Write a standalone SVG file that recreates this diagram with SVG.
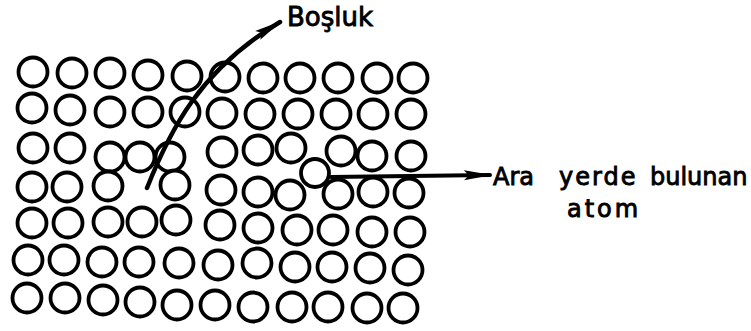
<svg xmlns="http://www.w3.org/2000/svg" width="751" height="331" viewBox="0 0 751 331">
  <style>
    .atom { fill: #fff; stroke: #000; stroke-width: 3.8; }
    .lead { fill: none; stroke: #000; stroke-linecap: round; }
    .lbl { font-family: "DejaVu Sans", "Liberation Sans", sans-serif; fill: #000; stroke: #000; stroke-width: 0.9; }
  </style>
  <defs>
    <marker id="head" markerUnits="userSpaceOnUse" markerWidth="28" markerHeight="14" viewBox="0 0 28 14" refX="26" refY="7" orient="auto">
      <path d="M0,2 L28,7 L0,12 L5,7 Z" fill="#000"/>
    </marker>
  </defs>

  <!-- regular lattice atoms, one row per line -->
  <g id="lattice">
    <!-- row 1 -->
    <circle class="atom" cx="33" cy="72" r="14.5"/>
    <circle class="atom" cx="72" cy="73" r="14.5"/>
    <circle class="atom" cx="110" cy="73" r="14.5"/>
    <circle class="atom" cx="148" cy="75" r="14.5"/>
    <circle class="atom" cx="187" cy="76" r="14.5"/>
    <circle class="atom" cx="225" cy="77" r="14.5"/>
    <circle class="atom" cx="263" cy="78" r="14.5"/>
    <circle class="atom" cx="300" cy="78" r="14.5"/>
    <circle class="atom" cx="338" cy="78" r="14.5"/>
    <circle class="atom" cx="377" cy="78" r="14.5"/>
    <circle class="atom" cx="413" cy="78" r="14.5"/>
    <!-- row 2 -->
    <circle class="atom" cx="32" cy="108" r="14.5"/>
    <circle class="atom" cx="70" cy="110" r="14.5"/>
    <circle class="atom" cx="110" cy="112" r="14.5"/>
    <circle class="atom" cx="148" cy="112" r="14.5"/>
    <circle class="atom" cx="185" cy="112" r="14.5"/>
    <circle class="atom" cx="222" cy="113" r="14.5"/>
    <circle class="atom" cx="260" cy="114" r="14.5"/>
    <circle class="atom" cx="298" cy="114" r="14.5"/>
    <circle class="atom" cx="336" cy="114" r="14.5"/>
    <circle class="atom" cx="373" cy="114" r="14.5"/>
    <circle class="atom" cx="411" cy="114" r="14.5"/>
    <!-- row 3 (atoms next to the vacancy pulled in) -->
    <circle class="atom" cx="33" cy="148" r="14.5"/>
    <circle class="atom" cx="70" cy="148" r="14.5"/>
    <circle class="atom" cx="110" cy="157" r="14.5"/>
    <circle class="atom" cx="140" cy="157" r="14.5"/>
    <circle class="atom" cx="170" cy="157" r="14.5"/>
    <circle class="atom" cx="222" cy="152" r="14.5"/>
    <circle class="atom" cx="258" cy="150" r="14.5"/>
    <circle class="atom" cx="291" cy="148" r="14.5"/>
    <circle class="atom" cx="341" cy="151" r="14.5"/>
    <circle class="atom" cx="372" cy="156" r="14.5"/>
    <circle class="atom" cx="411" cy="156" r="14.5"/>
    <!-- row 4 (one site empty) -->
    <circle class="atom" cx="32" cy="187" r="14.5"/>
    <circle class="atom" cx="67" cy="187" r="14.5"/>
    <circle class="atom" cx="108" cy="186" r="14.5"/>
    <circle class="atom" cx="175" cy="185" r="14.5"/>
    <circle class="atom" cx="221" cy="190" r="14.5"/>
    <circle class="atom" cx="258" cy="192" r="14.5"/>
    <circle class="atom" cx="290" cy="195" r="14.5"/>
    <circle class="atom" cx="338" cy="194" r="14.5"/>
    <circle class="atom" cx="373" cy="192" r="14.5"/>
    <circle class="atom" cx="409" cy="193" r="14.5"/>
    <!-- row 5 -->
    <circle class="atom" cx="32" cy="223" r="14.5"/>
    <circle class="atom" cx="68" cy="223" r="14.5"/>
    <circle class="atom" cx="108" cy="222" r="14.5"/>
    <circle class="atom" cx="142" cy="222" r="14.5"/>
    <circle class="atom" cx="176" cy="220" r="14.5"/>
    <circle class="atom" cx="220" cy="225" r="14.5"/>
    <circle class="atom" cx="258" cy="228" r="14.5"/>
    <circle class="atom" cx="297" cy="230" r="14.5"/>
    <circle class="atom" cx="333" cy="230" r="14.5"/>
    <circle class="atom" cx="372" cy="232" r="14.5"/>
    <circle class="atom" cx="410" cy="232" r="14.5"/>
    <!-- row 6 -->
    <circle class="atom" cx="28" cy="260" r="14.5"/>
    <circle class="atom" cx="64" cy="260" r="14.5"/>
    <circle class="atom" cx="102" cy="262" r="14.5"/>
    <circle class="atom" cx="139" cy="262" r="14.5"/>
    <circle class="atom" cx="179" cy="263" r="14.5"/>
    <circle class="atom" cx="218" cy="265" r="14.5"/>
    <circle class="atom" cx="257" cy="263" r="14.5"/>
    <circle class="atom" cx="295" cy="267" r="14.5"/>
    <circle class="atom" cx="332" cy="267" r="14.5"/>
    <circle class="atom" cx="370" cy="268" r="14.5"/>
    <circle class="atom" cx="408" cy="270" r="14.5"/>
    <!-- row 7 -->
    <circle class="atom" cx="27" cy="298" r="14.5"/>
    <circle class="atom" cx="65" cy="298" r="14.5"/>
    <circle class="atom" cx="103" cy="300" r="14.5"/>
    <circle class="atom" cx="140" cy="302" r="14.5"/>
    <circle class="atom" cx="177" cy="305" r="14.5"/>
    <circle class="atom" cx="215" cy="305" r="14.5"/>
    <circle class="atom" cx="253" cy="307" r="14.5"/>
    <circle class="atom" cx="292" cy="307" r="14.5"/>
    <circle class="atom" cx="328" cy="307" r="14.5"/>
    <circle class="atom" cx="367" cy="308" r="14.5"/>
    <circle class="atom" cx="403" cy="308" r="14.5"/>
  </g>

  <!-- extra atom squeezed between rows 3 and 4 -->
  <g id="interstitial">
    <circle class="atom" cx="315" cy="173" r="14"/>
  </g>

  <g id="connectors">
    <path class="lead" stroke-width="4.5" d="M147,188 C170,130 200,70 280,22" marker-end="url(#head)"/>
    <path class="lead" stroke-width="4" d="M331,177 L490,175" marker-end="url(#head)"/>
  </g>

  <g id="label-bosluk">
    <text class="lbl" x="287" y="26" font-size="26">Boşluk</text>
  </g>

  <g id="label-ara">
    <text class="lbl" x="493" y="185" font-size="24">Ara</text>
    <text class="lbl" x="559" y="185" font-size="24" letter-spacing="2">yerde</text>
    <text class="lbl" x="650" y="185" font-size="24">bulunan</text>
    <text class="lbl" x="567" y="217" font-size="24" letter-spacing="3">atom</text>
  </g>
</svg>
